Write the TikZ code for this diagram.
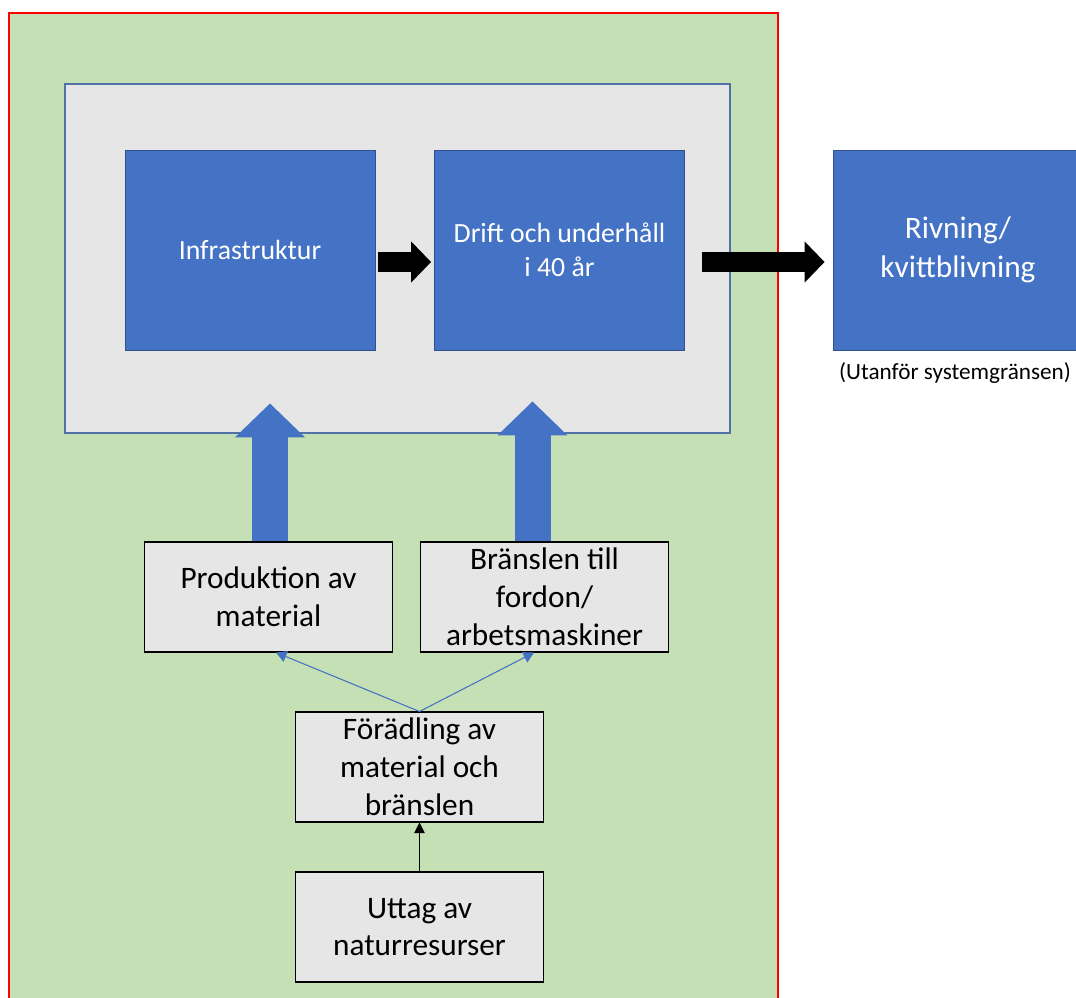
\documentclass[tikz,border=0pt]{standalone}
\usepackage{fontspec}
\setmainfont{Carlito}
\usetikzlibrary{arrows.meta}
\definecolor{boxblue}{HTML}{4472C4}
\definecolor{boxblueline}{HTML}{2F528F}
\definecolor{boxgray}{HTML}{E7E6E6}
\definecolor{sysgreen}{HTML}{C5E0B4}
\definecolor{sysline}{HTML}{5172A8}
\tikzset{
  stage/.style={draw=boxblueline, line width=0.5pt, fill=boxblue, text=white,
    minimum width=5cm, minimum height=4cm, align=center, inner sep=0pt,
    font=\fontsize{15.8}{19.5}\selectfont},
  source/.style={draw=black, line width=0.6pt, fill=boxgray,
    minimum width=4.96cm, minimum height=2.2cm, align=center, inner sep=0pt,
    font=\fontsize{17.8}{21.5}\selectfont},
  flow/.style={line width=0.4cm, -{Triangle[length=0.4cm,width=0.8cm]}},
  feed/.style={boxblue, line width=0.72cm, -{Triangle[length=0.68cm,width=1.36cm]}},
  link/.style={boxblue, line width=0.6pt, -{Triangle[length=6pt,width=6.5pt]}},
}
\begin{document}
\begin{tikzpicture}[x=0.02cm, y=-0.02cm]
  \useasboundingbox (0,0) rectangle (1076,998);
  \clip (0,0) rectangle (1076,998);
  % system boundary
  \draw[red, line width=1pt, fill=sysgreen] (9,13) rectangle (778,1010);
  \node[draw=sysline, line width=0.8pt, fill=boxgray, minimum width=13.3cm,
    minimum height=6.98cm, inner sep=0pt] (system) at (397.5,258.5) {};
  % stages
  \node[stage] (infra) at (250,250) {Infrastruktur};
  \node[stage] (drift) at (559.5,250) {Drift och underhåll\\i 40 år};
  \node[stage, font=\fontsize{17.8}{22}\selectfont] (riv) at (958,250) {Rivning/\\kvittblivning};
  \node[font=\fontsize{13.2}{16}\selectfont] (outside) at (955,373) {(Utanför systemgränsen)};
  % inputs
  \node[source] (prod) at (268.5,597) {Produktion av\\material};
  \node[source] (bransle) at (544.5,597) {Bränslen till\\fordon/\\arbetsmaskiner};
  \node[source] (fora) at (419.5,767) {Förädling av\\material och\\bränslen};
  \node[source] (uttag) at (419.5,927) {Uttag av\\naturresurser};
  % arrows
  \draw[flow, shorten <=0.06cm, shorten >=0.06cm]
    ([yshift=-0.24cm]infra.east) -- ([yshift=-0.24cm]drift.west);
  \draw[flow, shorten <=0.34cm, shorten >=0.16cm]
    ([yshift=-0.24cm]drift.east) -- ([yshift=-0.24cm]riv.west);
  \draw[feed, shorten >=1.06cm] ([xshift=0.03cm]prod.north) -- ([xshift=0.03cm]prod.north |- infra.south);
  \draw[feed, shorten >=1.02cm] ([xshift=-0.24cm]bransle.north) -- ([xshift=-0.24cm]bransle.north |- drift.south);
  \draw[link] (fora.north) -- ([xshift=0.15cm]prod.south);
  \draw[link] (fora.north) -- ([xshift=-0.21cm]bransle.south);
  \draw[line width=0.6pt, -{Triangle[length=6pt,width=6pt]}] (uttag.north) -- (fora.south);
\end{tikzpicture}
\end{document}
